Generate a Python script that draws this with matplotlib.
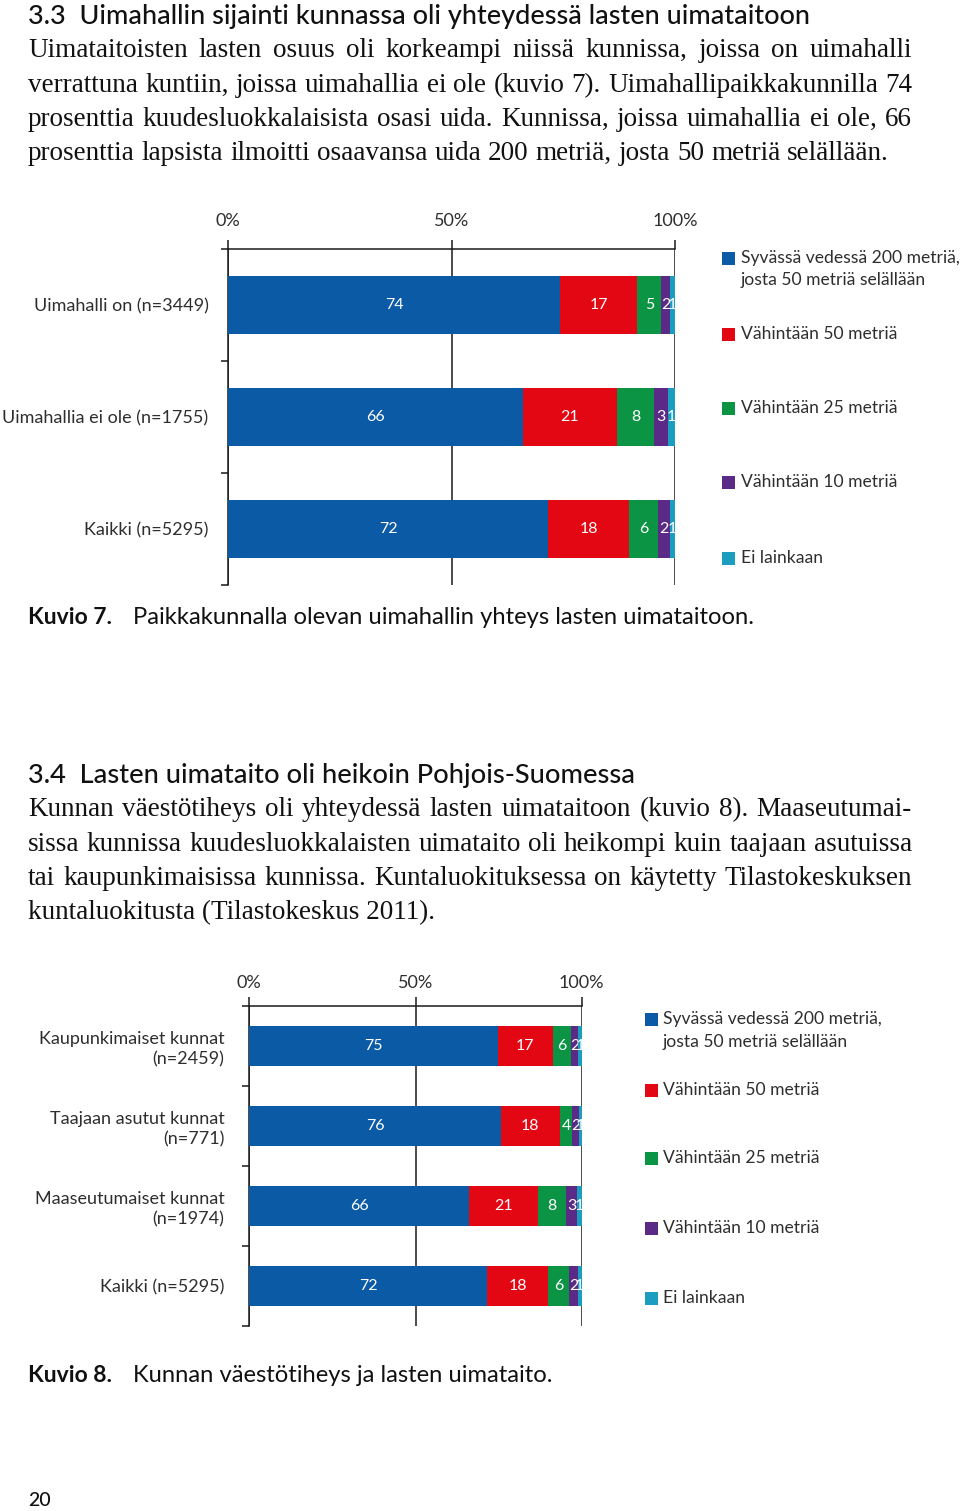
import matplotlib
matplotlib.use('Agg')
import matplotlib.pyplot as plt
from matplotlib.patches import Rectangle
from matplotlib.ticker import NullFormatter
import numpy as np

# ---------------- data ----------------
series_names = ['Syvässä vedessä 200 metriä,\njosta 50 metriä selällään',
                'Vähintään 50 metriä', 'Vähintään 25 metriä',
                'Vähintään 10 metriä', 'Ei lainkaan']
series_colors = ['#0b5aa6', '#e30613', '#0b9444', '#5b2a86', '#1b9dc0']

# Kuvio 7
c1_categories = ['Uimahalli on (n=3449)', 'Uimahallia ei ole (n=1755)', 'Kaikki (n=5295)']
c1_deep = [74.3, 65.9, 71.6]
c1_m50 = [17.3, 21.2, 18.2]
c1_m25 = [5.3, 8.2, 6.5]
c1_m10 = [2.0, 3.1, 2.5]
c1_none = [1.1, 1.6, 1.2]
c1_lbl_deep = [74, 66, 72]
c1_lbl_m50 = [17, 21, 18]
c1_lbl_m25 = [5, 8, 6]
c1_lbl_m10 = [2, 3, 2]
c1_lbl_none = [1, 1, 1]

# Kuvio 8
c2_categories = ['Kaupunkimaiset kunnat\n(n=2459)', 'Taajaan asutut kunnat\n(n=771)',
                 'Maaseutumaiset kunnat\n(n=1974)', 'Kaikki (n=5295)']
c2_deep = [74.7, 75.7, 66.2, 71.6]
c2_m50 = [16.6, 17.7, 20.7, 18.2]
c2_m25 = [5.6, 3.8, 8.4, 6.5]
c2_m10 = [2.0, 1.9, 3.2, 2.5]
c2_none = [1.1, 0.9, 1.5, 1.2]
c2_lbl_deep = [75, 76, 66, 72]
c2_lbl_m50 = [17, 18, 21, 18]
c2_lbl_m25 = [6, 4, 8, 6]
c2_lbl_m10 = [2, 2, 3, 2]
c2_lbl_none = [1, 1, 1, 1]

x_ticks = [0, 50, 100]
x_ticklabels = ['0%', '50%', '100%']

# ---------------- layout helpers ----------------
W, H = 960, 1511
fig = plt.figure(figsize=(W / 100, H / 100), dpi=100)
fig.patch.set_facecolor('white')
renderer = fig.canvas.get_renderer()

SANS = ['Lato', 'DejaVu Sans']
SERIF = ['Liberation Serif', 'DejaVu Serif']
LABEL_COL = '#2e2e2e'
TEXT_COL = '#111111'
LBL = 13


def fx(x):
    return x / W


def fy(y):
    return 1 - y / H


def ax_px(x0, y0, x1, y1):
    return fig.add_axes([x0 / W, 1 - y1 / H, (x1 - x0) / W, (y1 - y0) / H])


def text_fit(x, y, s, width, size, **kw):
    t = fig.text(fx(x), fy(y), s, fontsize=size, **kw)
    w = t.get_window_extent(renderer).width
    t.set_fontsize(size * width / w)
    return t


def justify(x0, x1, y, line, size, **kw):
    words = line.split()
    ts = [fig.text(fx(x0), fy(y), w, fontsize=size, va='baseline', ha='left', **kw)
          for w in words]
    ws = [t.get_window_extent(renderer).width for t in ts]
    gap = (x1 - x0 - sum(ws)) / (len(words) - 1)
    x = x0
    for t, w in zip(ts, ws):
        t.set_x(fx(x))
        x += w + gap


def stacked(ax, cats, series, labels, height, ylabel_pad, xlabel_pad):
    n = len(cats)
    pos = np.arange(n)
    left = np.zeros(n)
    for vals, lbls, col in zip(series, labels, series_colors):
        bars = ax.barh(pos, vals, left=left, height=height, color=col,
                       edgecolor='none', zorder=3)
        ax.bar_label(bars, labels=[str(v) for v in lbls], label_type='center',
                     color='white', fontsize=11.5, family=SANS)
        left += np.array(vals)
    ax.set_xlim(0, 100)
    ax.set_ylim(n - 0.5, -0.5)
    ax.xaxis.tick_top()
    ax.set_xticks(x_ticks, x_ticklabels)
    ax.tick_params(axis='x', direction='out', length=6.5, width=1.1, pad=xlabel_pad,
                   labelsize=LBL, labelcolor=LABEL_COL, color='#1a1a1a')
    for lab in ax.get_xticklabels():
        lab.set_family(SANS)
    ax.grid(axis='x', color='#1a1a1a', lw=1.1, zorder=0)
    ax.set_axisbelow(True)
    ax.set_yticks(np.arange(n + 1) - 0.5)
    ax.yaxis.set_major_formatter(NullFormatter())
    ax.set_yticks(pos, cats, minor=True)
    ax.tick_params(axis='y', which='major', direction='out', length=5.2, width=1.1,
                   color='#1a1a1a')
    ax.tick_params(axis='y', which='minor', length=0, pad=ylabel_pad,
                   labelsize=LBL, labelcolor=LABEL_COL)
    for lab in ax.get_yticklabels(minor=True):
        lab.set_family(SANS)
        lab.set_linespacing(1.3)
    for s in ['right', 'bottom']:
        ax.spines[s].set_visible(False)
    for s in ['left', 'top']:
        ax.spines[s].set_linewidth(1.1)
        ax.spines[s].set_color('#1a1a1a')
    ax.set_facecolor('none')


def legend(x_sq, x_txt, ys, size=12.6):
    for name, col, y in zip(series_names, series_colors, ys):
        sq = 13
        fig.add_artist(Rectangle((fx(x_sq), fy(y + sq / 2)), sq / W, sq / H,
                                 transform=fig.transFigure, color=col, lw=0))
        for k, line in enumerate(name.split('\n')):
            fig.text(fx(x_txt), fy(y + k * 22.5), line, fontsize=size, family=SANS,
                     color=LABEL_COL, va='center', ha='left')


# ---------------- page text, section 3.3 ----------------
text_fit(28, 24, '3.3  Uimahallin sijainti kunnassa oli yhteydessä lasten uimataitoon',
         780, 17, family=SANS, fontweight='medium', color=TEXT_COL, va='baseline')
BODY = 19.5
para1 = ['Uimataitoisten lasten osuus oli korkeampi niissä kunnissa, joissa on uimahalli',
         'verrattuna kuntiin, joissa uimahallia ei ole (kuvio 7). Uimahallipaikkakunnilla 74',
         'prosenttia kuudesluokkalaisista osasi uida. Kunnissa, joissa uimahallia ei ole, 66',
         'prosenttia lapsista ilmoitti osaavansa uida 200 metriä, josta 50 metriä selällään.']
para1_y = [57, 92, 126, 160]
para1_end = [912, 912, 912, 889]
for line, y, x1 in zip(para1, para1_y, para1_end):
    justify(28, x1, y, line, BODY, family=SERIF, color=TEXT_COL)

# ---------------- Kuvio 7 ----------------
ax1 = ax_px(228, 249, 675, 585)
stacked(ax1, c1_categories,
        [c1_deep, c1_m50, c1_m25, c1_m10, c1_none],
        [c1_lbl_deep, c1_lbl_m50, c1_lbl_m25, c1_lbl_m10, c1_lbl_none],
        height=0.52, ylabel_pad=14, xlabel_pad=8)
legend(722, 741, [258, 334, 408, 482, 558])

fig.text(fx(28), fy(617), 'Kuvio 7.', fontsize=16.5, family=SANS, fontweight='bold',
         color=TEXT_COL, va='center', ha='left')
text_fit(133, 617, 'Paikkakunnalla olevan uimahallin yhteys lasten uimataitoon.', 622, 15,
         family=SANS, color=TEXT_COL, va='center', ha='left')

# ---------------- section 3.4 ----------------
text_fit(28, 783, '3.4  Lasten uimataito oli heikoin Pohjois-Suomessa',
         605, 17, family=SANS, fontweight='medium', color=TEXT_COL, va='baseline')
para2 = ['Kunnan väestötiheys oli yhteydessä lasten uimataitoon (kuvio 8). Maaseutumai-',
         'sissa kunnissa kuudesluokkalaisten uimataito oli heikompi kuin taajaan asutuissa',
         'tai kaupunkimaisissa kunnissa. Kuntaluokituksessa on käytetty Tilastokeskuksen']
para2_y = [816, 851, 885]
for line, y in zip(para2, para2_y):
    justify(28, 912, y, line, BODY, family=SERIF, color=TEXT_COL)
fig.text(fx(28), fy(919), 'kuntaluokitusta (Tilastokeskus 2011).', fontsize=BODY,
         family=SERIF, color=TEXT_COL, va='baseline', ha='left')

# ---------------- Kuvio 8 ----------------
ax2 = ax_px(249.3, 1006, 581.7, 1326)
stacked(ax2, c2_categories,
        [c2_deep, c2_m50, c2_m25, c2_m10, c2_none],
        [c2_lbl_deep, c2_lbl_m50, c2_lbl_m25, c2_lbl_m10, c2_lbl_none],
        height=0.5, ylabel_pad=18, xlabel_pad=4.5)
legend(645, 663, [1019, 1090, 1158, 1228, 1298])

fig.text(fx(28), fy(1375), 'Kuvio 8.', fontsize=16.5, family=SANS, fontweight='bold',
         color=TEXT_COL, va='center', ha='left')
text_fit(133, 1375, 'Kunnan väestötiheys ja lasten uimataito.', 420, 15,
         family=SANS, color=TEXT_COL, va='center', ha='left')

fig.text(fx(28), fy(1500), '20', fontsize=14, family=SANS, fontweight='medium',
         color=TEXT_COL, va='center', ha='left')

fig.savefig('out.png', dpi=100, facecolor='white')
